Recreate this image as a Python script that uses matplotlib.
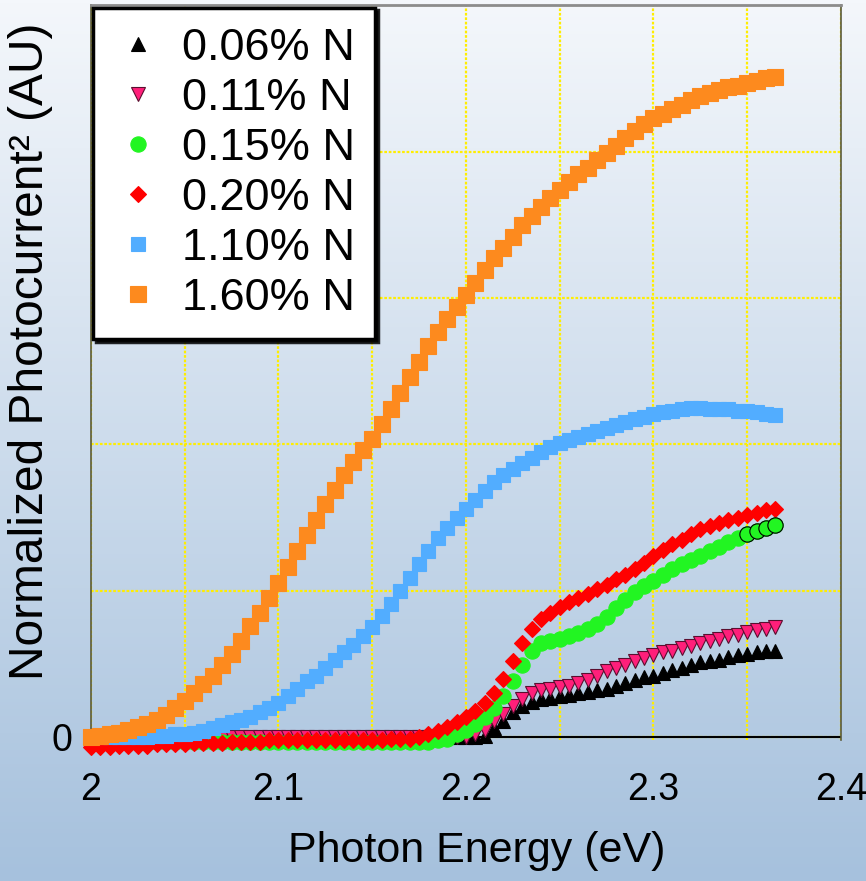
import numpy as np
import matplotlib
matplotlib.use("Agg")
import matplotlib.pyplot as plt
from matplotlib.ticker import MultipleLocator

plt.rcParams['font.family'] = ['Liberation Sans', 'DejaVu Sans']

# photon energy grid (eV)
energy = [2.000, 2.005, 2.010, 2.015, 2.020, 2.025, 2.030, 2.035, 2.040, 2.045,
          2.050, 2.055, 2.060, 2.065, 2.070, 2.075, 2.080, 2.085, 2.090, 2.095,
          2.100, 2.105, 2.110, 2.115, 2.120, 2.125, 2.130, 2.135, 2.140, 2.145,
          2.150, 2.155, 2.160, 2.165, 2.170, 2.175, 2.180, 2.185, 2.190, 2.195,
          2.200, 2.205, 2.210, 2.215, 2.220, 2.225, 2.230, 2.235, 2.240, 2.245,
          2.250, 2.255, 2.260, 2.265, 2.270, 2.275, 2.280, 2.285, 2.290, 2.295,
          2.300, 2.305, 2.310, 2.315, 2.320, 2.325, 2.330, 2.335, 2.340, 2.345,
          2.350, 2.355, 2.360, 2.365]

labels = ["0.06% N", "0.11% N", "0.15% N", "0.20% N", "1.10% N", "1.60% N"]

n006 = [0.00, 0.00, 0.00, 0.00, 0.00, 0.00, 0.00, 0.00, 0.00, 0.00,
        0.00, 0.00, 0.00, 0.00, 0.00, 0.00, 0.00, 0.00, 0.00, 0.00,
        0.00, 0.00, 0.00, 0.00, 0.00, 0.00, 0.00, 0.00, 0.00, 0.00,
        0.00, 0.00, 0.00, 0.00, 0.00, 0.00, 0.00, 0.00, 0.00, 0.00,
        0.00, 0.00, 0.01, 0.06, 0.11, 0.17, 0.21, 0.24, 0.26, 0.27,
        0.28, 0.29, 0.30, 0.31, 0.32, 0.33, 0.35, 0.37, 0.39, 0.41,
        0.42, 0.44, 0.46, 0.47, 0.49, 0.51, 0.52, 0.53, 0.55, 0.56,
        0.57, 0.58, 0.59, 0.59]

n011 = [0.00, 0.00, 0.00, 0.00, 0.00, 0.00, 0.00, 0.00, 0.00, 0.00,
        0.00, 0.00, 0.00, 0.00, 0.00, 0.00, 0.00, 0.00, 0.00, 0.00,
        0.00, 0.00, 0.00, 0.00, 0.00, 0.00, 0.00, 0.00, 0.00, 0.00,
        0.00, 0.00, 0.00, 0.00, 0.00, 0.00, 0.00, 0.00, 0.00, 0.00,
        0.00, 0.02, 0.05, 0.11, 0.16, 0.21, 0.26, 0.30, 0.32, 0.33,
        0.34, 0.35, 0.37, 0.39, 0.42, 0.45, 0.47, 0.49, 0.52, 0.54,
        0.56, 0.58, 0.59, 0.61, 0.62, 0.64, 0.66, 0.67, 0.69, 0.70,
        0.72, 0.73, 0.74, 0.75]

n015 = [-0.03, -0.03, -0.03, -0.03, -0.03, -0.03, -0.03, -0.03, -0.03, -0.03,
        -0.03, -0.03, -0.03, -0.03, -0.03, -0.03, -0.03, -0.03, -0.03, -0.03,
        -0.03, -0.03, -0.03, -0.03, -0.03, -0.03, -0.03, -0.03, -0.03, -0.03,
        -0.03, -0.03, -0.03, -0.03, -0.03, -0.03, -0.03, -0.02, -0.01, 0.02,
        0.05, 0.09, 0.14, 0.20, 0.28, 0.38, 0.49, 0.59, 0.64, 0.66,
        0.67, 0.69, 0.71, 0.74, 0.77, 0.82, 0.88, 0.94, 0.99, 1.03,
        1.07, 1.11, 1.15, 1.18, 1.21, 1.24, 1.27, 1.30, 1.33, 1.36,
        1.39, 1.41, 1.43, 1.45]

n020 = [-0.07, -0.07, -0.07, -0.06, -0.06, -0.06, -0.06, -0.05, -0.05, -0.05,
        -0.05, -0.04, -0.04, -0.04, -0.04, -0.03, -0.03, -0.03, -0.03, -0.02,
        -0.02, -0.02, -0.02, -0.02, -0.02, -0.02, -0.02, -0.02, -0.02, -0.02,
        -0.02, -0.02, -0.01, -0.01, -0.01, 0.00, 0.02, 0.04, 0.07, 0.10,
        0.14, 0.18, 0.23, 0.30, 0.40, 0.52, 0.64, 0.74, 0.81, 0.85,
        0.89, 0.92, 0.95, 0.98, 1.01, 1.04, 1.08, 1.11, 1.15, 1.19,
        1.24, 1.28, 1.32, 1.35, 1.39, 1.42, 1.44, 1.46, 1.48, 1.50,
        1.52, 1.53, 1.55, 1.56]

n110 = [0.00, 0.00, 0.00, 0.00, 0.00, 0.00, 0.00, 0.01, 0.01, 0.02,
        0.02, 0.03, 0.04, 0.06, 0.08, 0.10, 0.12, 0.14, 0.17, 0.20,
        0.23, 0.28, 0.33, 0.38, 0.42, 0.47, 0.53, 0.58, 0.63, 0.69,
        0.75, 0.83, 0.91, 1.00, 1.09, 1.18, 1.27, 1.36, 1.43, 1.50,
        1.56, 1.62, 1.68, 1.74, 1.79, 1.83, 1.87, 1.91, 1.95, 1.98,
        2.01, 2.03, 2.05, 2.07, 2.09, 2.11, 2.13, 2.15, 2.17, 2.19,
        2.21, 2.22, 2.23, 2.24, 2.25, 2.25, 2.24, 2.24, 2.24, 2.23,
        2.23, 2.22, 2.21, 2.20]

n160 = [0.00, 0.01, 0.02, 0.03, 0.05, 0.07, 0.09, 0.12, 0.15, 0.20,
        0.25, 0.30, 0.36, 0.42, 0.49, 0.57, 0.66, 0.76, 0.85, 0.95,
        1.05, 1.16, 1.27, 1.38, 1.48, 1.59, 1.69, 1.79, 1.88, 1.96,
        2.04, 2.14, 2.24, 2.35, 2.46, 2.56, 2.67, 2.77, 2.86, 2.94,
        3.02, 3.10, 3.19, 3.27, 3.34, 3.42, 3.50, 3.56, 3.62, 3.68,
        3.74, 3.79, 3.85, 3.89, 3.94, 3.99, 4.04, 4.09, 4.14, 4.19,
        4.23, 4.26, 4.29, 4.32, 4.35, 4.38, 4.40, 4.42, 4.44, 4.45,
        4.47, 4.48, 4.50, 4.51]

series = [n006, n011, n015, n020, n110, n160]
markers = ['^', 'v', 'o', 'D', 's', 's']
sizes = [9.5, 10, 11, 7.8, 9.4, 12.2]
colors = ['black', '#ff1f7a', '#22f522', '#ff0000', '#52adff', '#fd8a1e']
edges = ['black', '#5a0f2f', '#22f522', '#ff0000', '#52adff', '#fd8a1e']

fig = plt.figure(figsize=(8.66, 8.81), dpi=100)

# background gradient over the whole figure
bg = fig.add_axes([0, 0, 1, 1], zorder=-10)
top = np.array([244, 247, 251]) / 255
bot = np.array([166, 193, 221]) / 255
t = np.linspace(0, 1, 256)[:, None]
grad = (top * (1 - t) + bot * t)[:, None, :]
bg.imshow(grad, aspect='auto', extent=[0, 1, 0, 1])
bg.axis('off')

ax = fig.add_axes([0.105, 0.160, 0.866, 0.834])
ax.set_facecolor('none')

handles = []
for y, m, ms, c, ec, lab in zip(series, markers, sizes, colors, edges, labels):
    h, = ax.plot(energy, y, linestyle='none', marker=m, markersize=ms,
                 color=c, markeredgecolor=ec, markeredgewidth=0.8,
                 label=lab, clip_on=False, zorder=3)
    handles.append(h)

# last few green points show their outlines
ax.plot(energy[-4:], n015[-4:], linestyle='none', marker='o', markersize=11,
        color='#22f522', markeredgecolor='black', markeredgewidth=0.8,
        clip_on=False, zorder=3.5)

ax.axhline(0, color='black', lw=1.5, zorder=2)

ax.set_xlim(2.0, 2.4)
ax.set_ylim(-0.02, 5.0)
ax.xaxis.set_minor_locator(MultipleLocator(0.05))
ax.set_xticks([2.0, 2.1, 2.2, 2.3, 2.4])
ax.set_xticklabels(['2', '2.1', '2.2', '2.3', '2.4'])
ax.set_yticks([0, 1, 2, 3, 4, 5])
ax.set_yticklabels(['0', '', '', '', '', ''])
ax.tick_params(axis='both', which='both', length=0, labelsize=27)
ax.tick_params(axis='x', pad=23)
ax.tick_params(axis='y', pad=13)

ax.grid(True, which='both', color='#ffee00', linestyle=(0, (1.2, 0.8)), lw=1.6, zorder=1)

for side in ['left', 'right']:
    ax.spines[side].set_color('#5a5a3a')
    ax.spines[side].set_linewidth(1.2)
ax.spines['top'].set_color('#8c8c8c')
ax.spines['top'].set_linewidth(2)
ax.spines['bottom'].set_visible(False)

ax.set_xlabel('Photon Energy (eV)', fontsize=31)
ax.xaxis.set_label_coords(0.515, -0.124)
ax.set_ylabel('Normalized Photocurrent² (AU)', fontsize=34.5)
ax.yaxis.set_label_coords(-0.05, 0.529)

leg = ax.legend(handles=handles, loc='upper left', fontsize=32.5, numpoints=1,
                frameon=True, fancybox=False, framealpha=1, edgecolor='black',
                borderaxespad=0.05, borderpad=0.45, handlelength=1.1,
                handletextpad=0.42, labelspacing=0.2,
                shadow={'color': 'black', 'alpha': 0.85})
leg.get_frame().set_linewidth(2.5)
leg.set_zorder(5)

fig.savefig('out.png', dpi=100)
